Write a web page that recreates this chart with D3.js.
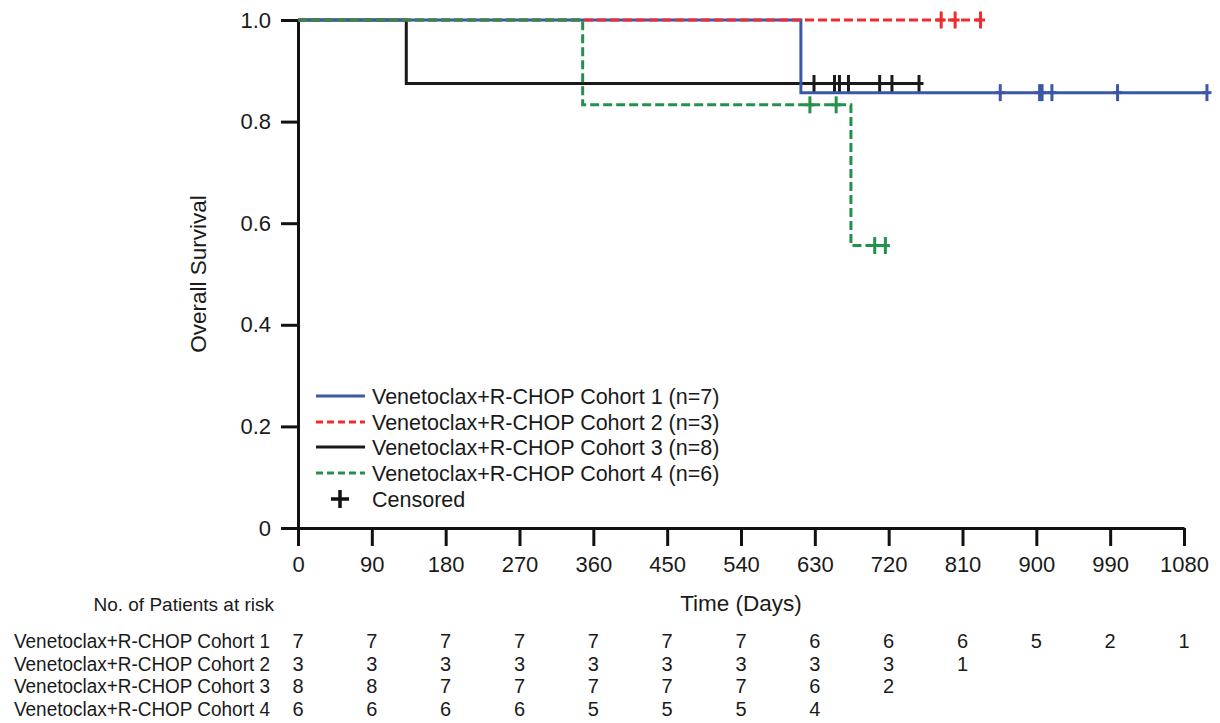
<!DOCTYPE html>
<html>
<head>
<meta charset="utf-8">
<script src="https://cdnjs.cloudflare.com/ajax/libs/d3/7.8.5/d3.min.js"></script>
<style>
  body { margin: 0; background: #fff; }
  text { font-family: "Liberation Sans", Arial, Helvetica, sans-serif; fill: #1a1a1a; }
</style>
</head>
<body>
<script>
// data
var cohortNames = ["Venetoclax+R-CHOP Cohort 1", "Venetoclax+R-CHOP Cohort 2",
                   "Venetoclax+R-CHOP Cohort 3", "Venetoclax+R-CHOP Cohort 4"];
var cohortN = [7, 3, 8, 6];

// KM steps: times where survival changes, and the survival level from that time on
var stepTimes = [[0, 613], [0], [0, 132], [0, 347, 674]];
var stepSurv = [[1.0, 0.857], [1.0], [1.0, 0.875], [1.0, 0.833, 0.556]];
var lastTime = [1108, 832, 757, 716];

var censorTimes = [
  [856, 904, 907, 919, 999, 1108],
  [784, 801, 832],
  [629, 654, 660, 671, 709, 724, 757],
  [624, 656, 703, 716]
];

var xTicks = [0, 90, 180, 270, 360, 450, 540, 630, 720, 810, 900, 990, 1080];
var yTicks = [0, 0.2, 0.4, 0.6, 0.8, 1.0];
var yTickLabels = ["0", "0.2", "0.4", "0.6", "0.8", "1.0"];

var atRisk = [
  [7, 7, 7, 7, 7, 7, 7, 6, 6, 6, 5, 2, 1],
  [3, 3, 3, 3, 3, 3, 3, 3, 3, 1, null, null, null],
  [8, 8, 7, 7, 7, 7, 7, 6, 2, null, null, null, null],
  [6, 6, 6, 6, 5, 5, 5, 4, null, null, null, null, null]
];

var colors = ["#3b57a7", "#ee2b2e", "#1a1a1a", "#25904c"];
var dashes = [null, "9,4", null, "9,4"];

var width = 1220;
var height = 723;

var svg = d3.select("body")
  .append("svg")
  .attr("width", width)
  .attr("height", height);

var x = d3.scaleLinear().domain([0, 1080]).range([298, 1184]);
var y = d3.scaleLinear().domain([0, 1]).range([528, 20]);

// axes
var xAxis = svg.append("g")
  .attr("transform", "translate(0," + y(0) + ")")
  .call(d3.axisBottom(x).tickValues(xTicks).tickSize(18).tickSizeOuter(0).tickPadding(10)
    .tickFormat(function(d) { return String(d); }));

var yAxis = svg.append("g")
  .attr("transform", "translate(" + x(0) + ",0)")
  .call(d3.axisLeft(y).tickValues(yTicks).tickSize(17).tickSizeOuter(0).tickPadding(10)
    .tickFormat(function(d, i) { return yTickLabels[i]; }));

[xAxis, yAxis].forEach(function(a) {
  a.select(".domain").attr("stroke", "#111").attr("stroke-width", 3);
  a.selectAll(".tick line").attr("stroke", "#111").attr("stroke-width", 3);
  a.selectAll(".tick text")
    .style("font-family", "'Liberation Sans', Arial, sans-serif")
    .style("font-size", "22px")
    .attr("fill", "#1a1a1a");
});

svg.append("text")
  .attr("x", (x(0) + x(1080)) / 2)
  .attr("y", 611)
  .attr("text-anchor", "middle")
  .style("font-size", "22.5px")
  .text("Time (Days)");

svg.append("text")
  .attr("transform", "translate(206," + y(0.5) + ") rotate(-90)")
  .attr("text-anchor", "middle")
  .style("font-size", "22.5px")
  .text("Overall Survival");

// curves (drawn black, blue, red, green so the overlap on 1.0 looks right)
var order = [2, 0, 1, 3];
var line = d3.line()
  .x(function(d) { return x(d[0]); })
  .y(function(d) { return y(d[1]); })
  .curve(d3.curveStepAfter);

function survAt(i, t) {
  var s = stepSurv[i][0];
  for (var k = 0; k < stepTimes[i].length; k++) {
    if (stepTimes[i][k] <= t) s = stepSurv[i][k];
  }
  return s;
}

order.forEach(function(i) {
  var pts = stepTimes[i].map(function(t, k) { return [t, stepSurv[i][k]]; });
  pts.push([lastTime[i], stepSurv[i][stepSurv[i].length - 1]]);
  var g = svg.append("g");
  g.append("path")
    .datum(pts)
    .attr("fill", "none")
    .attr("stroke", colors[i])
    .attr("stroke-width", 3)
    .attr("stroke-dasharray", dashes[i])
    .attr("d", line);

  var cs = g.selectAll("g.cens")
    .data(censorTimes[i])
    .enter()
    .append("g")
    .attr("transform", function(t) { return "translate(" + x(t) + "," + y(survAt(i, t)) + ")"; });
  cs.append("line")
    .attr("x1", 0).attr("x2", 0).attr("y1", -8.5).attr("y2", 8.5)
    .attr("stroke", colors[i]).attr("stroke-width", 3);
  cs.append("line")
    .attr("x1", -4.5).attr("x2", 4.5).attr("y1", 0).attr("y2", 0)
    .attr("stroke", colors[i]).attr("stroke-width", 3);
});

// legend
var legY = [396, 422, 447, 473];
var leg = svg.append("g");
cohortNames.forEach(function(name, i) {
  leg.append("line")
    .attr("x1", 316).attr("x2", 365)
    .attr("y1", legY[i]).attr("y2", legY[i])
    .attr("stroke", colors[i])
    .attr("stroke-width", 3)
    .attr("stroke-dasharray", dashes[i] ? "7,4" : null);
  leg.append("text")
    .attr("x", 372).attr("y", legY[i])
    .attr("dy", "0.36em")
    .style("font-size", "21.5px")
    .text(name + " (n=" + cohortN[i] + ")");
});
leg.append("line").attr("x1", 331).attr("x2", 349).attr("y1", 499).attr("y2", 499)
  .attr("stroke", "#111").attr("stroke-width", 3.5);
leg.append("line").attr("x1", 340).attr("x2", 340).attr("y1", 490).attr("y2", 508)
  .attr("stroke", "#111").attr("stroke-width", 3.5);
leg.append("text")
  .attr("x", 372).attr("y", 499)
  .attr("dy", "0.36em")
  .style("font-size", "21.5px")
  .text("Censored");

// number at risk table
svg.append("text")
  .attr("x", 274).attr("y", 611)
  .attr("text-anchor", "end")
  .style("font-size", "19px")
  .text("No. of Patients at risk");

var rowY = [648, 670.5, 693, 715.5];
cohortNames.forEach(function(name, i) {
  svg.append("text")
    .attr("x", 270).attr("y", rowY[i])
    .attr("text-anchor", "end")
    .attr("textLength", 256)
    .attr("lengthAdjust", "spacingAndGlyphs")
    .style("font-size", "20px")
    .text(name);
  svg.append("g").selectAll("text")
    .data(atRisk[i].map(function(v, k) { return [xTicks[k], v]; })
      .filter(function(d) { return d[1] !== null; }))
    .enter()
    .append("text")
    .attr("x", function(d) { return x(d[0]); })
    .attr("y", rowY[i])
    .attr("text-anchor", "middle")
    .style("font-size", "20px")
    .text(function(d) { return d[1]; });
});
</script>
</body>
</html>
